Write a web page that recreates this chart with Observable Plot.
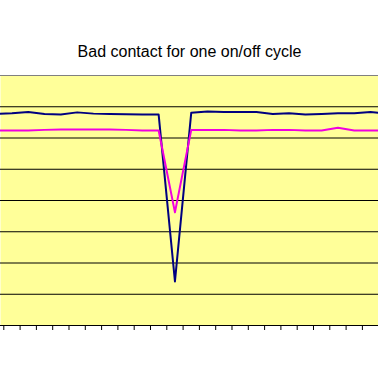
<!DOCTYPE html>
<html>
<head>
<meta charset="utf-8">
<script src="https://cdn.jsdelivr.net/npm/d3@7"></script>
<script src="https://cdn.jsdelivr.net/npm/@observablehq/plot@0.6"></script>
<style>
  html, body { margin: 0; padding: 0; background: #ffffff; }
  #chart svg { display: block; font-family: "Liberation Sans", Arial, sans-serif; }
</style>
</head>
<body>
<div id="chart"></div>
<script>
const title = "Bad contact for one on/off cycle";

// sample index along the horizontal (category) axis
const samples = [-1, 0, 1, 2, 3, 4, 5, 6, 7, 8, 9, 10, 11, 12, 13, 14, 15, 16, 17, 18, 19, 20, 21, 22, 23];

// first series (navy)
const seriesA = [6.77, 6.79, 6.83, 6.77, 6.75, 6.82, 6.78, 6.77, 6.76, 6.75, 6.75, 1.41, 6.81, 6.85, 6.83, 6.83, 6.83, 6.77, 6.79, 6.75, 6.77, 6.79, 6.79, 6.83, 6.79];

// second series (magenta)
const seriesB = [6.24, 6.24, 6.24, 6.26, 6.27, 6.27, 6.27, 6.27, 6.26, 6.24, 6.24, 3.62, 6.26, 6.26, 6.26, 6.24, 6.24, 6.26, 6.26, 6.24, 6.24, 6.33, 6.24, 6.24, 6.24];

// category boundaries (tick marks sit between samples)
const tickPositions = [-0.5, 0.5, 1.5, 2.5, 3.5, 4.5, 5.5, 6.5, 7.5, 8.5, 9.5, 10.5, 11.5, 12.5, 13.5, 14.5, 15.5, 16.5, 17.5, 18.5, 19.5, 20.5, 21.5, 22.5];

// horizontal gridlines
const gridValues = [1, 2, 3, 4, 5, 6, 7];
const yMin = 0;
const yMax = 8;

const dataA = samples.map((s, i) => ({x: s, y: seriesA[i]}));
const dataB = samples.map((s, i) => ({x: s, y: seriesB[i]}));

const chart = Plot.plot({
  width: 378,
  height: 381,
  marginLeft: 0,
  marginRight: 0,
  marginTop: 75,
  marginBottom: 56,
  style: {background: "#ffffff", fontFamily: "Liberation Sans, Arial, sans-serif"},
  x: {domain: [-0.7025, 22.488], axis: null},
  y: {domain: [yMin, yMax], axis: null},
  marks: [
    Plot.frame({fill: "#FFFF99", stroke: null}),
    Plot.ruleY(gridValues, {stroke: "#000000", strokeWidth: 1}),
    Plot.ruleY([yMax], {stroke: "#808080", strokeWidth: 1}),
    Plot.line(dataA, {x: "x", y: "y", stroke: "#000080", strokeWidth: 2, clip: true}),
    Plot.line(dataB, {x: "x", y: "y", stroke: "#F000E0", strokeWidth: 2, clip: true}),
    Plot.ruleY([yMin], {stroke: "#000000", strokeWidth: 1}),
    Plot.axisX({ticks: tickPositions, tickSize: 5, tickFormat: () => "", stroke: "#000000", strokeWidth: 1, label: null}),
    Plot.text([title], {frameAnchor: "top", dy: -30, fontSize: 16, fill: "#000000"})
  ]
});

document.getElementById("chart").appendChild(chart);
</script>
</body>
</html>
